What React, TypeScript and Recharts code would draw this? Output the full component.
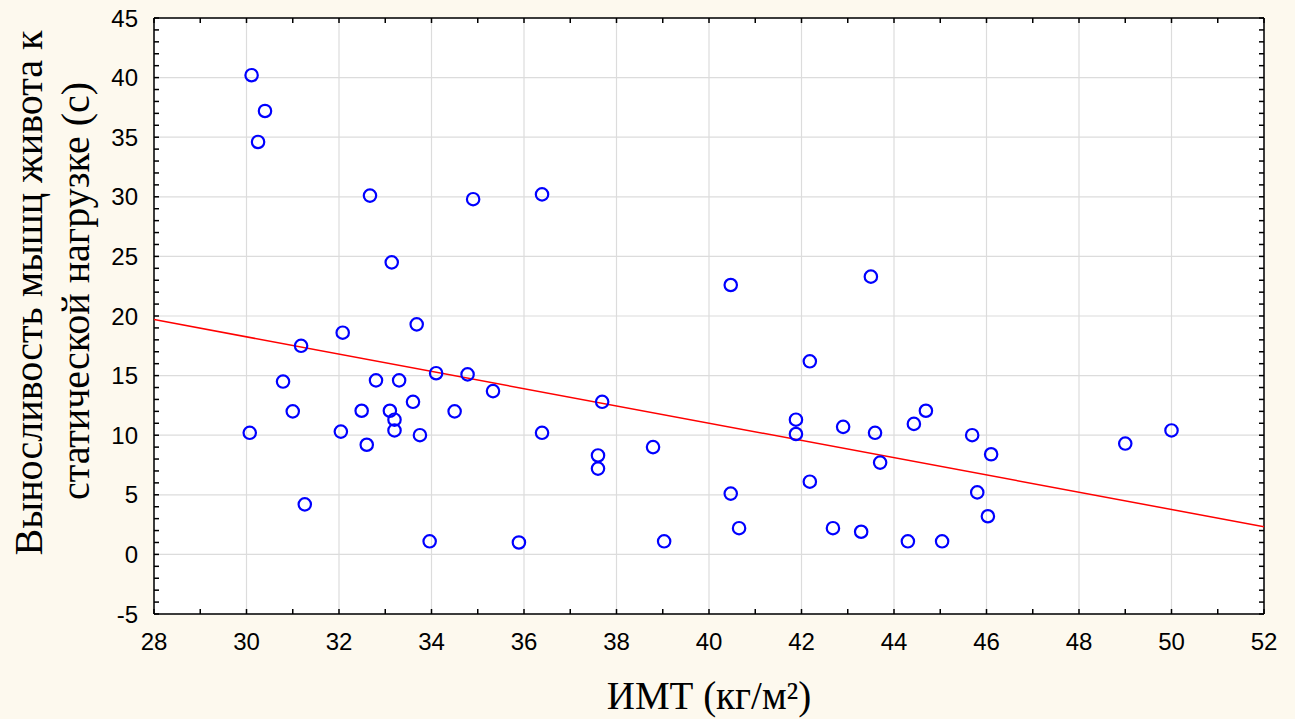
import React from 'react';
import { ScatterChart, Scatter, XAxis, YAxis, CartesianGrid, Label } from 'recharts';

// BMI (x) vs abdominal muscle endurance (y)
const BMI = [
    30.11, 30.4, 30.25, 30.07, 30.79, 31.0, 31.18, 31.26, 32.04, 32.08,
    32.67, 32.49, 32.6, 32.8, 33.1, 33.14, 33.2, 33.2, 33.3, 33.6,
    33.68, 33.75, 33.96, 34.1, 34.5, 34.78, 34.9, 35.33, 35.89, 36.39,
    36.39, 37.6, 37.6, 37.69, 38.79, 39.03, 40.47, 40.47, 40.65, 41.88,
    41.88, 42.18, 42.18, 42.68, 42.9, 43.29, 43.5, 43.59, 43.7, 44.3,
    44.43, 44.69, 45.04, 45.69, 45.8, 46.03, 46.1, 49.0, 50.0,
];
const ENDURANCE = [
    40.2, 37.2, 34.6, 10.2, 14.5, 12.0, 17.5, 4.2, 10.3, 18.6,
    30.1, 12.05, 9.2, 14.6, 12.05, 24.5, 11.3, 10.4, 14.6, 12.8,
    19.3, 10.0, 1.1, 15.2, 12.0, 15.1, 29.8, 13.7, 1.0, 30.2,
    10.2, 8.3, 7.2, 12.8, 9.0, 1.1, 22.6, 5.1, 2.2, 11.3,
    10.1, 16.2, 6.1, 2.2, 10.7, 1.9, 23.3, 10.2, 7.7, 1.1,
    10.95, 12.05, 1.1, 10.0, 5.2, 3.2, 8.4, 9.3, 10.4,
];
// fitted regression line end points
const TREND_X = [28, 52];
const TREND_Y = [19.7, 2.32];

const X_DOMAIN = [28, 52];
const Y_DOMAIN = [-5, 45];
const X_TICKS = [28, 30, 32, 34, 36, 38, 40, 42, 44, 46, 48, 50, 52];
const Y_TICKS = [-5, 0, 5, 10, 15, 20, 25, 30, 35, 40, 45];
const X_MINOR = Array.from({ length: 25 }, (_, i) => 28 + i);
const Y_MINOR = Array.from({ length: 51 }, (_, i) => -5 + i);

const points = BMI.map((x, i) => ({ x, y: ENDURANCE[i] }));
const trend = TREND_X.map((x, i) => ({ x, y: TREND_Y[i] }));

const tickFamily = '"Liberation Sans", Arial, sans-serif';
const titleFont = '"Liberation Serif", "Times New Roman", serif';

// labels only on the major ticks, minor ticks are bare lines
const XTick = ({ x, y, payload }: any) =>
    X_TICKS.includes(payload.value) ? (
        <text x={x} y={y} dy="0.71em" textAnchor="middle" fontSize={24} fontFamily={tickFamily} fill="#000">
            {payload.value}
        </text>
    ) : <g />;

const YTick = ({ x, y, payload }: any) =>
    Y_TICKS.includes(payload.value) ? (
        <text x={x} y={y} dy="0.355em" textAnchor="end" fontSize={24} fontFamily={tickFamily} fill="#000">
            {payload.value}
        </text>
    ) : <g />;

// grid only at the labelled values
const gridX = ({ offset }: any) => {
    const left = offset?.left ?? 154;
    const w = offset?.width ?? 1110;
    return X_TICKS.map((v) => left + ((v - X_DOMAIN[0]) / (X_DOMAIN[1] - X_DOMAIN[0])) * w);
};
const gridY = ({ offset }: any) => {
    const top = offset?.top ?? 18;
    const h = offset?.height ?? 596;
    return Y_TICKS.map((v) => top + ((Y_DOMAIN[1] - v) / (Y_DOMAIN[1] - Y_DOMAIN[0])) * h);
};

const Ring = (props: any) => (
    <circle cx={props.cx} cy={props.cy} r={6.2} fill="none" stroke="#0000FF" strokeWidth={2.2} />
);

const XTitle = () => (
    <text x={709} y={709} textAnchor="middle" fontSize={39} fontFamily={titleFont} fill="#000">
        ИМТ (кг/м²)
    </text>
);

const YTitle = () => (
    <g fontSize={40} fontFamily={titleFont} fill="#000">
        <text x={42} y={293} textAnchor="middle" transform="rotate(-90, 42, 293)">
            Выносливость мышц живота к
        </text>
        <text x={89} y={291} textAnchor="middle" transform="rotate(-90, 89, 291)">
            статической нагрузке (с)
        </text>
    </g>
);

const App: React.FC = () => {
    return (
        <div style={{ position: 'absolute', left: 0, top: 0, width: 1295, height: 719, background: '#FDF9EE' }}>
            <ScatterChart width={1295} height={719} margin={{ top: 0, right: 0, bottom: 0, left: 0 }}>
                <CartesianGrid
                    stroke="#dcdcdc"
                    strokeWidth={1.2}
                    fill="#ffffff"
                    verticalCoordinatesGenerator={gridX}
                    horizontalCoordinatesGenerator={gridY}
                />
                <XAxis
                    dataKey="x"
                    type="number"
                    domain={X_DOMAIN}
                    ticks={X_MINOR}
                    interval={0}
                    height={105}
                    stroke="#000"
                    strokeWidth={1.5}
                    tickSize={-5}
                    tickMargin={24}
                    tick={XTick}
                    allowDataOverflow
                >
                    <Label content={XTitle} />
                </XAxis>
                <YAxis
                    dataKey="y"
                    type="number"
                    domain={Y_DOMAIN}
                    ticks={Y_MINOR}
                    interval={0}
                    width={154}
                    stroke="#000"
                    strokeWidth={1.5}
                    tickSize={-5}
                    tickMargin={21}
                    tick={YTick}
                    allowDataOverflow
                >
                    <Label content={YTitle} />
                </YAxis>
                <XAxis
                    xAxisId="top"
                    orientation="top"
                    dataKey="x"
                    type="number"
                    domain={X_DOMAIN}
                    ticks={X_MINOR}
                    interval={0}
                    height={18}
                    stroke="#000"
                    strokeWidth={1.5}
                    tickSize={-5}
                    tickFormatter={() => ''}
                    allowDataOverflow
                />
                <YAxis
                    yAxisId="right"
                    orientation="right"
                    dataKey="y"
                    type="number"
                    domain={Y_DOMAIN}
                    ticks={Y_MINOR}
                    interval={0}
                    width={31}
                    stroke="#000"
                    strokeWidth={1.5}
                    tickSize={-5}
                    tickFormatter={() => ''}
                    allowDataOverflow
                />

                <Scatter
                    data={trend}
                    xAxisId="top"
                    yAxisId="right"
                    line={{ stroke: '#FF0000', strokeWidth: 1.5 }}
                    shape={() => <g />}
                    isAnimationActive={false}
                />
                <Scatter data={points} shape={Ring} isAnimationActive={false} />
            </ScatterChart>
        </div>
    );
};

export default App;
